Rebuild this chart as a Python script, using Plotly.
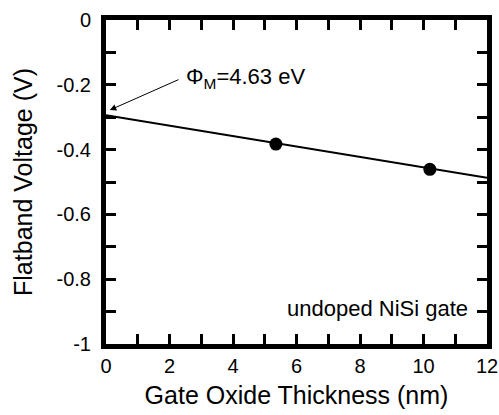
import plotly.graph_objects as go

# Data
thickness_nm = [5.35, 10.2]
flatband_v = [-0.383, -0.461]
fit_x = [0, 12]
fit_y = [-0.294, -0.487]

x_tickvals = list(range(0, 13))
x_ticktext = [str(v) if v % 2 == 0 else " " for v in x_tickvals]
y_tickvals = [round(-0.1 * i, 1) for i in range(0, 11)]
y_ticktext = ["0", " ", "-0.2", " ", "-0.4", " ", "-0.6", " ", "-0.8", " ", "-1"]

FONT = "Liberation Sans, Arial, sans-serif"

fig = go.Figure()
fig.add_trace(go.Scatter(x=fit_x, y=fit_y, mode="lines",
                         line=dict(color="black", width=2), showlegend=False, cliponaxis=False))
fig.add_trace(go.Scatter(x=thickness_nm, y=flatband_v, mode="markers",
                         marker=dict(color="black", size=13), showlegend=False))

axis_common = dict(showline=True, linecolor="black", linewidth=5, mirror="ticks",
                   ticks="inside", ticklen=10, tickwidth=3, tickcolor="black",
                   showgrid=False, zeroline=False, automargin=False,
                   tickfont=dict(family=FONT, size=20, color="black"))

fig.update_xaxes(range=[0, 12], tickmode="array", tickvals=x_tickvals, ticktext=x_ticktext,
                 ticklabelstandoff=0,
                 title=dict(text="Gate Oxide Thickness (nm)", font=dict(family=FONT, size=25, color="black"),
                            standoff=12),
                 **axis_common)
fig.update_yaxes(range=[-1, 0], tickmode="array", tickvals=y_tickvals, ticktext=y_ticktext,
                 ticklabelstandoff=6,
                 title=dict(text="Flatband Voltage (V)", font=dict(family=FONT, size=25, color="black"),
                            standoff=18),
                 **axis_common)

# Arrow annotation
fig.add_annotation(x=0.12, y=-0.278, ax=2.33, ay=-0.182, xref="x", yref="y", axref="x", ayref="y",
                   text="", showarrow=True, arrowhead=2, arrowsize=1.3, arrowwidth=1, arrowcolor="black")
fig.add_annotation(x=2.45, y=-0.18, xref="x", yref="y", xanchor="left", yanchor="middle",
                   text="Φ<sub>M</sub>=4.63 eV", showarrow=False,
                   font=dict(family=FONT, size=22, color="black"))
fig.add_annotation(x=11.45, y=-0.889, xref="x", yref="y", xanchor="right", yanchor="middle",
                   text="undoped NiSi gate", showarrow=False,
                   font=dict(family=FONT, size=22, color="black"))

fig.update_layout(width=499, height=415, margin=dict(l=106, r=12, t=20, b=71),
                  paper_bgcolor="white", plot_bgcolor="white",
                  font=dict(family=FONT, color="black"))

fig.write_html("out.html", config={"displayModeBar": False},
               post_script="document.body.style.margin='0';document.body.style.overflow='hidden';")
